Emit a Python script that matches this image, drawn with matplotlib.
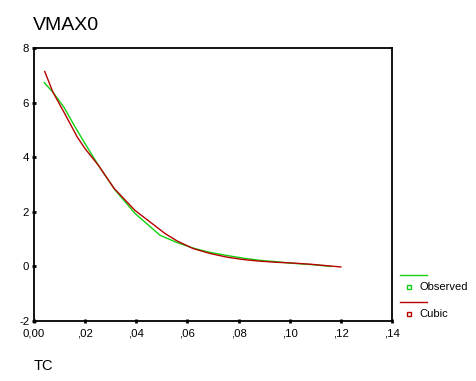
import matplotlib
matplotlib.use("Agg")
import matplotlib.pyplot as plt
from matplotlib.lines import Line2D

plt.rcParams['font.family'] = ['Liberation Sans', 'DejaVu Sans']

# Observed series
obs_x = [0.0040, 0.0074, 0.0117, 0.0160, 0.0200, 0.0252, 0.0317, 0.0395, 0.0493,
         0.0560, 0.0623, 0.0680, 0.0754, 0.0820, 0.0885, 0.0950, 0.1000, 0.1080, 0.1160]
obs_y = [6.73, 6.38, 5.83, 5.12, 4.49, 3.70, 2.80, 1.94, 1.14,
         0.87, 0.67, 0.53, 0.40, 0.30, 0.22, 0.17, 0.12, 0.07, 0.00]

# Cubic fit series
cub_x = [0.0042, 0.0074, 0.0120, 0.0169, 0.0200, 0.0252, 0.0313, 0.0395, 0.0466,
         0.0513, 0.0560, 0.0623, 0.0690, 0.0754, 0.0820, 0.0885, 0.0950, 0.1000, 0.1080, 0.1200]
cub_y = [7.14, 6.38, 5.60, 4.74, 4.31, 3.70, 2.86, 2.05, 1.54,
         1.20, 0.93, 0.65, 0.47, 0.34, 0.25, 0.19, 0.15, 0.13, 0.08, -0.02]

x_ticks = [0.00, 0.02, 0.04, 0.06, 0.08, 0.10, 0.12, 0.14]
x_labels = ['0,00', ',02', ',04', ',06', ',08', ',10', ',12', ',14']
y_ticks = [-2, 0, 2, 4, 6, 8]
y_labels = ['-2', '0', '2', '4', '6', '8']

title = 'VMAX0'
xlabel = 'TC'
legend_names = ['Observed', 'Cubic']
green = '#10d010'
red = '#b80000'

fig = plt.figure(figsize=(4.76, 3.81), dpi=100)
ax = fig.add_axes([34/476, 1-321/381, (392-34)/476, (321-48)/381])
ax.plot(obs_x, obs_y, color=green, lw=1.0)
ax.plot(cub_x, cub_y, color=red, lw=1.0)
ax.set_xlim(0, 0.14)
ax.set_ylim(-2, 8)
ax.set_xticks(x_ticks)
ax.set_xticklabels(x_labels)
ax.set_yticks(y_ticks)
ax.set_yticklabels(y_labels)
ax.tick_params(direction='inout', length=3, width=2, labelsize=8.2, color='black')
ax.tick_params(axis='x', pad=4)
ax.tick_params(axis='y', pad=2)
for s in ax.spines.values():
    s.set_linewidth(1.3)
    s.set_color('black')

fig.text(33/476, 1-25/381, title, fontsize=14, va='center', ha='left')
fig.text(34/476, 1-366/381, xlabel, fontsize=10.5, va='center', ha='left')

# Legend
for i, (name, col) in enumerate(zip(legend_names, [green, red])):
    yl = 275 + 27*i
    ym = 287 + 27*i
    fig.add_artist(Line2D([400/476, 427/476], [1-yl/381, 1-yl/381], color=col, lw=1.0))
    fig.add_artist(Line2D([409/476], [1-ym/381], marker='s', markersize=3.5,
                          markerfacecolor='white', markeredgecolor=col, markeredgewidth=1.0, lw=0))
    fig.text(419/476, 1-ym/381, name, fontsize=8, va='center', ha='left')

fig.savefig('out.png', dpi=100)
